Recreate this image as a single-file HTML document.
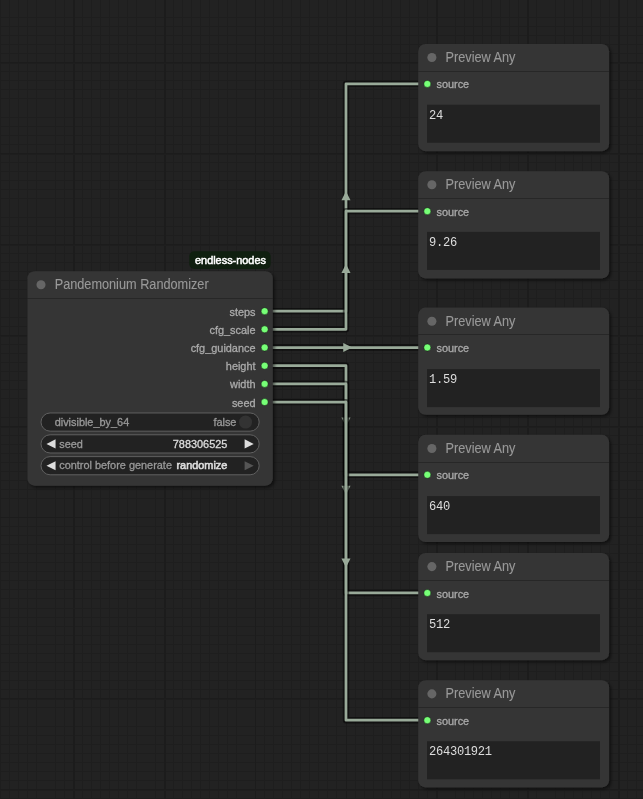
<!DOCTYPE html>
<html><head><meta charset="utf-8">
<style>
html,body{margin:0;padding:0;width:643px;height:799px;overflow:hidden;background:#222222;}
body{position:relative;font-family:"Liberation Sans",sans-serif;}
svg{position:absolute;left:0;top:0;will-change:transform;}
</style></head><body>

<svg width="643" height="799" viewBox="0 0 643 799">
<defs><filter id="sh" x="-10%" y="-10%" width="120%" height="120%"><feGaussianBlur in="SourceAlpha" stdDeviation="1.4"/><feOffset dx="1.8" dy="1.8"/><feComponentTransfer><feFuncA type="linear" slope="0.5"/></feComponentTransfer><feMerge><feMergeNode/><feMergeNode in="SourceGraphic"/></feMerge></filter></defs>
<g id="grid"><rect x="0" y="0" width="1" height="799" fill="#1e1e1e"/><rect x="9" y="0" width="1" height="799" fill="#1e1e1e"/><rect x="18" y="0" width="1" height="799" fill="#1e1e1e"/><rect x="27" y="0" width="1" height="799" fill="#1e1e1e"/><rect x="36" y="0" width="1" height="799" fill="#1e1e1e"/><rect x="55" y="0" width="1" height="799" fill="#1e1e1e"/><rect x="64" y="0" width="1" height="799" fill="#1e1e1e"/><rect x="82" y="0" width="1" height="799" fill="#1e1e1e"/><rect x="91" y="0" width="1" height="799" fill="#1e1e1e"/><rect x="100" y="0" width="1" height="799" fill="#1e1e1e"/><rect x="109" y="0" width="1" height="799" fill="#1e1e1e"/><rect x="118" y="0" width="1" height="799" fill="#1e1e1e"/><rect x="127" y="0" width="1" height="799" fill="#1e1e1e"/><rect x="136" y="0" width="1" height="799" fill="#1e1e1e"/><rect x="155" y="0" width="1" height="799" fill="#1e1e1e"/><rect x="173" y="0" width="1" height="799" fill="#1e1e1e"/><rect x="182" y="0" width="1" height="799" fill="#1e1e1e"/><rect x="191" y="0" width="1" height="799" fill="#1e1e1e"/><rect x="200" y="0" width="1" height="799" fill="#1e1e1e"/><rect x="209" y="0" width="1" height="799" fill="#1e1e1e"/><rect x="218" y="0" width="1" height="799" fill="#1e1e1e"/><rect x="227" y="0" width="1" height="799" fill="#1e1e1e"/><rect x="236" y="0" width="1" height="799" fill="#1e1e1e"/><rect x="264" y="0" width="1" height="799" fill="#1e1e1e"/><rect x="273" y="0" width="1" height="799" fill="#1e1e1e"/><rect x="282" y="0" width="1" height="799" fill="#1e1e1e"/><rect x="291" y="0" width="1" height="799" fill="#1e1e1e"/><rect x="300" y="0" width="1" height="799" fill="#1e1e1e"/><rect x="309" y="0" width="1" height="799" fill="#1e1e1e"/><rect x="318" y="0" width="1" height="799" fill="#1e1e1e"/><rect x="327" y="0" width="1" height="799" fill="#1e1e1e"/><rect x="336" y="0" width="1" height="799" fill="#1e1e1e"/><rect x="355" y="0" width="1" height="799" fill="#1e1e1e"/><rect x="364" y="0" width="1" height="799" fill="#1e1e1e"/><rect x="373" y="0" width="1" height="799" fill="#1e1e1e"/><rect x="382" y="0" width="1" height="799" fill="#1e1e1e"/><rect x="391" y="0" width="1" height="799" fill="#1e1e1e"/><rect x="400" y="0" width="1" height="799" fill="#1e1e1e"/><rect x="409" y="0" width="1" height="799" fill="#1e1e1e"/><rect x="418" y="0" width="1" height="799" fill="#1e1e1e"/><rect x="427" y="0" width="1" height="799" fill="#1e1e1e"/><rect x="455" y="0" width="1" height="799" fill="#1e1e1e"/><rect x="464" y="0" width="1" height="799" fill="#1e1e1e"/><rect x="473" y="0" width="1" height="799" fill="#1e1e1e"/><rect x="482" y="0" width="1" height="799" fill="#1e1e1e"/><rect x="491" y="0" width="1" height="799" fill="#1e1e1e"/><rect x="500" y="0" width="1" height="799" fill="#1e1e1e"/><rect x="509" y="0" width="1" height="799" fill="#1e1e1e"/><rect x="518" y="0" width="1" height="799" fill="#1e1e1e"/><rect x="536" y="0" width="1" height="799" fill="#1e1e1e"/><rect x="555" y="0" width="1" height="799" fill="#1e1e1e"/><rect x="564" y="0" width="1" height="799" fill="#1e1e1e"/><rect x="573" y="0" width="1" height="799" fill="#1e1e1e"/><rect x="582" y="0" width="1" height="799" fill="#1e1e1e"/><rect x="591" y="0" width="1" height="799" fill="#1e1e1e"/><rect x="600" y="0" width="1" height="799" fill="#1e1e1e"/><rect x="609" y="0" width="1" height="799" fill="#1e1e1e"/><rect x="627" y="0" width="1" height="799" fill="#1e1e1e"/><rect x="636" y="0" width="1" height="799" fill="#1e1e1e"/><rect x="0" y="17" width="643" height="1" fill="#1e1e1e"/><rect x="0" y="26" width="643" height="1" fill="#1e1e1e"/><rect x="0" y="35" width="643" height="1" fill="#1e1e1e"/><rect x="0" y="44" width="643" height="1" fill="#1e1e1e"/><rect x="0" y="53" width="643" height="1" fill="#1e1e1e"/><rect x="0" y="71" width="643" height="1" fill="#1e1e1e"/><rect x="0" y="80" width="643" height="1" fill="#1e1e1e"/><rect x="0" y="89" width="643" height="1" fill="#1e1e1e"/><rect x="0" y="98" width="643" height="1" fill="#1e1e1e"/><rect x="0" y="117" width="643" height="1" fill="#1e1e1e"/><rect x="0" y="126" width="643" height="1" fill="#1e1e1e"/><rect x="0" y="135" width="643" height="1" fill="#1e1e1e"/><rect x="0" y="144" width="643" height="1" fill="#1e1e1e"/><rect x="0" y="162" width="643" height="1" fill="#1e1e1e"/><rect x="0" y="171" width="643" height="1" fill="#1e1e1e"/><rect x="0" y="180" width="643" height="1" fill="#1e1e1e"/><rect x="0" y="189" width="643" height="1" fill="#1e1e1e"/><rect x="0" y="198" width="643" height="1" fill="#1e1e1e"/><rect x="0" y="217" width="643" height="1" fill="#1e1e1e"/><rect x="0" y="226" width="643" height="1" fill="#1e1e1e"/><rect x="0" y="235" width="643" height="1" fill="#1e1e1e"/><rect x="0" y="253" width="643" height="1" fill="#1e1e1e"/><rect x="0" y="262" width="643" height="1" fill="#1e1e1e"/><rect x="0" y="271" width="643" height="1" fill="#1e1e1e"/><rect x="0" y="280" width="643" height="1" fill="#1e1e1e"/><rect x="0" y="289" width="643" height="1" fill="#1e1e1e"/><rect x="0" y="298" width="643" height="1" fill="#1e1e1e"/><rect x="0" y="317" width="643" height="1" fill="#1e1e1e"/><rect x="0" y="326" width="643" height="1" fill="#1e1e1e"/><rect x="0" y="344" width="643" height="1" fill="#1e1e1e"/><rect x="0" y="353" width="643" height="1" fill="#1e1e1e"/><rect x="0" y="362" width="643" height="1" fill="#1e1e1e"/><rect x="0" y="371" width="643" height="1" fill="#1e1e1e"/><rect x="0" y="380" width="643" height="1" fill="#1e1e1e"/><rect x="0" y="389" width="643" height="1" fill="#1e1e1e"/><rect x="0" y="398" width="643" height="1" fill="#1e1e1e"/><rect x="0" y="417" width="643" height="1" fill="#1e1e1e"/><rect x="0" y="435" width="643" height="1" fill="#1e1e1e"/><rect x="0" y="444" width="643" height="1" fill="#1e1e1e"/><rect x="0" y="453" width="643" height="1" fill="#1e1e1e"/><rect x="0" y="462" width="643" height="1" fill="#1e1e1e"/><rect x="0" y="471" width="643" height="1" fill="#1e1e1e"/><rect x="0" y="480" width="643" height="1" fill="#1e1e1e"/><rect x="0" y="489" width="643" height="1" fill="#1e1e1e"/><rect x="0" y="498" width="643" height="1" fill="#1e1e1e"/><rect x="0" y="526" width="643" height="1" fill="#1e1e1e"/><rect x="0" y="535" width="643" height="1" fill="#1e1e1e"/><rect x="0" y="544" width="643" height="1" fill="#1e1e1e"/><rect x="0" y="553" width="643" height="1" fill="#1e1e1e"/><rect x="0" y="562" width="643" height="1" fill="#1e1e1e"/><rect x="0" y="571" width="643" height="1" fill="#1e1e1e"/><rect x="0" y="580" width="643" height="1" fill="#1e1e1e"/><rect x="0" y="589" width="643" height="1" fill="#1e1e1e"/><rect x="0" y="598" width="643" height="1" fill="#1e1e1e"/><rect x="0" y="617" width="643" height="1" fill="#1e1e1e"/><rect x="0" y="626" width="643" height="1" fill="#1e1e1e"/><rect x="0" y="635" width="643" height="1" fill="#1e1e1e"/><rect x="0" y="644" width="643" height="1" fill="#1e1e1e"/><rect x="0" y="653" width="643" height="1" fill="#1e1e1e"/><rect x="0" y="662" width="643" height="1" fill="#1e1e1e"/><rect x="0" y="671" width="643" height="1" fill="#1e1e1e"/><rect x="0" y="680" width="643" height="1" fill="#1e1e1e"/><rect x="0" y="689" width="643" height="1" fill="#1e1e1e"/><rect x="0" y="707" width="643" height="1" fill="#1e1e1e"/><rect x="0" y="726" width="643" height="1" fill="#1e1e1e"/><rect x="0" y="735" width="643" height="1" fill="#1e1e1e"/><rect x="0" y="744" width="643" height="1" fill="#1e1e1e"/><rect x="0" y="753" width="643" height="1" fill="#1e1e1e"/><rect x="0" y="762" width="643" height="1" fill="#1e1e1e"/><rect x="0" y="771" width="643" height="1" fill="#1e1e1e"/><rect x="0" y="780" width="643" height="1" fill="#1e1e1e"/><rect x="0" y="798" width="643" height="1" fill="#1e1e1e"/><rect x="73" y="0" width="1" height="799" fill="#1c1c1c"/><rect x="74" y="0" width="1" height="799" fill="#1c1c1c"/><rect x="164" y="0" width="1" height="799" fill="#1c1c1c"/><rect x="165" y="0" width="1" height="799" fill="#1c1c1c"/><rect x="255" y="0" width="1" height="799" fill="#1c1c1c"/><rect x="346" y="0" width="1" height="799" fill="#1c1c1c"/><rect x="436" y="0" width="1" height="799" fill="#1c1c1c"/><rect x="437" y="0" width="1" height="799" fill="#1c1c1c"/><rect x="527" y="0" width="1" height="799" fill="#1c1c1c"/><rect x="528" y="0" width="1" height="799" fill="#1c1c1c"/><rect x="618" y="0" width="1" height="799" fill="#1c1c1c"/><rect x="619" y="0" width="1" height="799" fill="#1c1c1c"/><rect x="0" y="62" width="643" height="1" fill="#1c1c1c"/><rect x="0" y="63" width="643" height="1" fill="#1e1e1e"/><rect x="0" y="153" width="643" height="1" fill="#1c1c1c"/><rect x="0" y="154" width="643" height="1" fill="#1e1e1e"/><rect x="0" y="244" width="643" height="1" fill="#1c1c1c"/><rect x="0" y="245" width="643" height="1" fill="#1e1e1e"/><rect x="0" y="335" width="643" height="1" fill="#1c1c1c"/><rect x="0" y="336" width="643" height="1" fill="#1e1e1e"/><rect x="0" y="426" width="643" height="1" fill="#1c1c1c"/><rect x="0" y="427" width="643" height="1" fill="#1e1e1e"/><rect x="0" y="517" width="643" height="1" fill="#1c1c1c"/><rect x="0" y="608" width="643" height="1" fill="#1e1e1e"/><rect x="0" y="698" width="643" height="1" fill="#1c1c1c"/><rect x="0" y="699" width="643" height="1" fill="#1e1e1e"/><rect x="0" y="789" width="643" height="1" fill="#1c1c1c"/><rect x="0" y="790" width="643" height="1" fill="#1e1e1e"/></g>
<g id="links"><path d="M264.63 311.17 L273.72 311.17 L345.98 311.17 L345.98 83.92 L418.25 83.92 L427.34 83.92" fill="none" stroke="rgba(0,0,0,0.5)" stroke-width="6.36" stroke-linejoin="round" stroke-linecap="round"/><path d="M264.63 311.17 L273.72 311.17 L345.98 311.17 L345.98 83.92 L418.25 83.92 L427.34 83.92" fill="none" stroke="#99aa99" stroke-width="2.73" stroke-linejoin="round" stroke-linecap="round"/><path d="M-2.73 -4.54 L6.36 0 L-2.73 4.54 Z" fill="#99aa99" transform="translate(345.98 197.54) rotate(-90)"/><path d="M264.63 329.35 L273.72 329.35 L345.98 329.35 L345.98 211.18 L418.25 211.18 L427.34 211.18" fill="none" stroke="rgba(0,0,0,0.5)" stroke-width="6.36" stroke-linejoin="round" stroke-linecap="round"/><path d="M264.63 329.35 L273.72 329.35 L345.98 329.35 L345.98 211.18 L418.25 211.18 L427.34 211.18" fill="none" stroke="#99aa99" stroke-width="2.73" stroke-linejoin="round" stroke-linecap="round"/><path d="M-2.73 -4.54 L6.36 0 L-2.73 4.54 Z" fill="#99aa99" transform="translate(345.98 270.26) rotate(-90)"/><path d="M264.63 347.53 L273.72 347.53 L345.98 347.53 L345.98 347.53 L418.25 347.53 L427.34 347.53" fill="none" stroke="rgba(0,0,0,0.5)" stroke-width="6.36" stroke-linejoin="round" stroke-linecap="round"/><path d="M264.63 347.53 L273.72 347.53 L345.98 347.53 L345.98 347.53 L418.25 347.53 L427.34 347.53" fill="none" stroke="#99aa99" stroke-width="2.73" stroke-linejoin="round" stroke-linecap="round"/><path d="M-2.73 -4.54 L6.36 0 L-2.73 4.54 Z" fill="#99aa99" transform="translate(345.98 347.53) rotate(0)"/><path d="M264.63 365.71 L273.72 365.71 L345.98 365.71 L345.98 474.79 L418.25 474.79 L427.34 474.79" fill="none" stroke="rgba(0,0,0,0.5)" stroke-width="6.36" stroke-linejoin="round" stroke-linecap="round"/><path d="M264.63 365.71 L273.72 365.71 L345.98 365.71 L345.98 474.79 L418.25 474.79 L427.34 474.79" fill="none" stroke="#99aa99" stroke-width="2.73" stroke-linejoin="round" stroke-linecap="round"/><path d="M-2.73 -4.54 L6.36 0 L-2.73 4.54 Z" fill="#99aa99" transform="translate(345.98 420.25) rotate(90)"/><path d="M264.63 383.89 L273.72 383.89 L345.98 383.89 L345.98 592.96 L418.25 592.96 L427.34 592.96" fill="none" stroke="rgba(0,0,0,0.5)" stroke-width="6.36" stroke-linejoin="round" stroke-linecap="round"/><path d="M264.63 383.89 L273.72 383.89 L345.98 383.89 L345.98 592.96 L418.25 592.96 L427.34 592.96" fill="none" stroke="#99aa99" stroke-width="2.73" stroke-linejoin="round" stroke-linecap="round"/><path d="M-2.73 -4.54 L6.36 0 L-2.73 4.54 Z" fill="#99aa99" transform="translate(345.98 488.42) rotate(90)"/><path d="M264.63 402.07 L273.72 402.07 L345.98 402.07 L345.98 720.22 L418.25 720.22 L427.34 720.22" fill="none" stroke="rgba(0,0,0,0.5)" stroke-width="6.36" stroke-linejoin="round" stroke-linecap="round"/><path d="M264.63 402.07 L273.72 402.07 L345.98 402.07 L345.98 720.22 L418.25 720.22 L427.34 720.22" fill="none" stroke="#99aa99" stroke-width="2.73" stroke-linejoin="round" stroke-linecap="round"/><path d="M-2.73 -4.54 L6.36 0 L-2.73 4.54 Z" fill="#99aa99" transform="translate(345.98 561.14) rotate(90)"/></g>
<rect x="27.38" y="271.17" width="245.43" height="214.52" rx="7.27" fill="#353535" filter="url(#sh)"/><rect x="27.38" y="298" width="245.43" height="1" fill="rgba(0,0,0,0.25)"/>
<circle cx="41.01" cy="284.81" r="4.54" fill="#666"/>
<text transform="translate(54.65 289.35) scale(1 1.1)" x="0" y="0" font-size="12.72" fill="#999" stroke="#999" stroke-width="0.1" font-family="Liberation Sans">Pandemonium Randomizer</text>
<text x="255.54" y="315.71" font-size="10.91" fill="#aaa" stroke="#aaa" stroke-width="0.3" text-anchor="end" font-family="Liberation Sans">steps</text>
<circle cx="264.63" cy="311.17" r="3.5" fill="#77ff77" stroke="rgba(0,0,0,0.5)" stroke-width="0.8"/>
<text x="255.54" y="333.89" font-size="10.91" fill="#aaa" stroke="#aaa" stroke-width="0.3" text-anchor="end" font-family="Liberation Sans">cfg_scale</text>
<circle cx="264.63" cy="329.35" r="3.5" fill="#77ff77" stroke="rgba(0,0,0,0.5)" stroke-width="0.8"/>
<text x="255.54" y="352.07" font-size="10.91" fill="#aaa" stroke="#aaa" stroke-width="0.3" text-anchor="end" font-family="Liberation Sans">cfg_guidance</text>
<circle cx="264.63" cy="347.53" r="3.5" fill="#77ff77" stroke="rgba(0,0,0,0.5)" stroke-width="0.8"/>
<text x="255.54" y="370.25" font-size="10.91" fill="#aaa" stroke="#aaa" stroke-width="0.3" text-anchor="end" font-family="Liberation Sans">height</text>
<circle cx="264.63" cy="365.71" r="3.5" fill="#77ff77" stroke="rgba(0,0,0,0.5)" stroke-width="0.8"/>
<text x="255.54" y="388.43" font-size="10.91" fill="#aaa" stroke="#aaa" stroke-width="0.3" text-anchor="end" font-family="Liberation Sans">width</text>
<circle cx="264.63" cy="383.89" r="3.5" fill="#77ff77" stroke="rgba(0,0,0,0.5)" stroke-width="0.8"/>
<text x="255.54" y="406.61" font-size="10.91" fill="#aaa" stroke="#aaa" stroke-width="0.3" text-anchor="end" font-family="Liberation Sans">seed</text>
<circle cx="264.63" cy="402.07" r="3.5" fill="#77ff77" stroke="rgba(0,0,0,0.5)" stroke-width="0.8"/>
<rect x="41.01" y="412.98" width="218.16" height="18.18" rx="9.09" fill="#222" stroke="#666" stroke-width="0.91"/>
<rect x="41.01" y="434.79" width="218.16" height="18.18" rx="9.09" fill="#222" stroke="#666" stroke-width="0.91"/>
<rect x="41.01" y="456.61" width="218.16" height="18.18" rx="9.09" fill="#222" stroke="#666" stroke-width="0.91"/>
<text x="54.65" y="425.7" font-size="10.91" fill="#999" stroke="#999" stroke-width="0.3" font-family="Liberation Sans">divisible_by_64</text>
<text x="236.45" y="425.7" font-size="10.91" fill="#999" stroke="#999" stroke-width="0.3" text-anchor="end" font-family="Liberation Sans">false</text>
<circle cx="245.54" cy="422.07" r="6.54" fill="#333"/>
<path d="M55.56 439.34 L46.47 443.88 L55.56 448.43 Z" fill="#ddd"/><path d="M244.63 439.34 L253.72 443.88 L244.63 448.43 Z" fill="#ddd"/>
<text x="59.19" y="447.52" font-size="10.91" fill="#999" stroke="#999" stroke-width="0.3" font-family="Liberation Sans">seed</text>
<text x="227.36" y="447.52" font-size="10.91" fill="#ddd" stroke="#ddd" stroke-width="0.3" text-anchor="end" font-family="Liberation Sans">788306525</text>
<path d="M55.56 461.15 L46.47 465.7 L55.56 470.24 Z" fill="#ddd"/><path d="M244.63 461.15 L253.72 465.7 L244.63 470.24 Z" fill="#555"/>
<text x="59.19" y="469.33" font-size="10.91" fill="#999" stroke="#999" stroke-width="0.3" font-family="Liberation Sans">control before generate</text>
<text x="227.36" y="469.33" font-size="10.91" fill="#ddd" stroke="#ddd" stroke-width="0.6" text-anchor="end" font-family="Liberation Sans">randomize</text>
<rect x="189.3" y="251.2" width="81.3" height="17.8" rx="5" fill="#0f1f0f"/>
<text x="195" y="264" font-size="10.91" fill="#fff" stroke="#fff" stroke-width="0.5" font-family="Liberation Sans">endless-nodes</text>
<rect x="418.25" y="43.92" width="190.89" height="107.26" rx="7.27" fill="#353535" filter="url(#sh)"/><rect x="418.25" y="71" width="190.89" height="1" fill="rgba(0,0,0,0.25)"/>
<circle cx="431.88" cy="57.56" r="4.54" fill="#666"/>
<text transform="translate(445.52 62.1) scale(1 1.1)" x="0" y="0" font-size="12.72" fill="#999" stroke="#999" stroke-width="0.1" font-family="Liberation Sans">Preview Any</text>
<circle cx="427.34" cy="83.92" r="3.5" fill="#77ff77" stroke="rgba(0,0,0,0.5)" stroke-width="0.8"/>
<text x="436.43" y="88" font-size="10.91" fill="#aaa" stroke="#aaa" stroke-width="0.3" font-family="Liberation Sans">source</text>
<rect x="427" y="104.7" width="173" height="38" fill="#222"/>
<text x="429.1" y="118.6" font-size="12.1" letter-spacing="-0.3" fill="#ddd" font-family="Liberation Mono">24</text>
<rect x="418.25" y="171.18" width="190.89" height="107.26" rx="7.27" fill="#353535" filter="url(#sh)"/><rect x="418.25" y="198" width="190.89" height="1" fill="rgba(0,0,0,0.25)"/>
<circle cx="431.88" cy="184.82" r="4.54" fill="#666"/>
<text transform="translate(445.52 189.36) scale(1 1.1)" x="0" y="0" font-size="12.72" fill="#999" stroke="#999" stroke-width="0.1" font-family="Liberation Sans">Preview Any</text>
<circle cx="427.34" cy="211.18" r="3.5" fill="#77ff77" stroke="rgba(0,0,0,0.5)" stroke-width="0.8"/>
<text x="436.43" y="216" font-size="10.91" fill="#aaa" stroke="#aaa" stroke-width="0.3" font-family="Liberation Sans">source</text>
<rect x="427" y="231.9" width="173" height="38" fill="#222"/>
<text x="429.1" y="245.8" font-size="12.1" letter-spacing="-0.3" fill="#ddd" font-family="Liberation Mono">9.26</text>
<rect x="418.25" y="307.53" width="190.89" height="107.26" rx="7.27" fill="#353535" filter="url(#sh)"/><rect x="418.25" y="334" width="190.89" height="1" fill="rgba(0,0,0,0.25)"/>
<circle cx="431.88" cy="321.17" r="4.54" fill="#666"/>
<text transform="translate(445.52 325.71) scale(1 1.1)" x="0" y="0" font-size="12.72" fill="#999" stroke="#999" stroke-width="0.1" font-family="Liberation Sans">Preview Any</text>
<circle cx="427.34" cy="347.53" r="3.5" fill="#77ff77" stroke="rgba(0,0,0,0.5)" stroke-width="0.8"/>
<text x="436.43" y="352" font-size="10.91" fill="#aaa" stroke="#aaa" stroke-width="0.3" font-family="Liberation Sans">source</text>
<rect x="427" y="369.1" width="173" height="38" fill="#222"/>
<text x="429.1" y="383" font-size="12.1" letter-spacing="-0.3" fill="#ddd" font-family="Liberation Mono">1.59</text>
<rect x="418.25" y="434.79" width="190.89" height="107.26" rx="7.27" fill="#353535" filter="url(#sh)"/><rect x="418.25" y="462" width="190.89" height="1" fill="rgba(0,0,0,0.25)"/>
<circle cx="431.88" cy="448.43" r="4.54" fill="#666"/>
<text transform="translate(445.52 452.97) scale(1 1.1)" x="0" y="0" font-size="12.72" fill="#999" stroke="#999" stroke-width="0.1" font-family="Liberation Sans">Preview Any</text>
<circle cx="427.34" cy="474.79" r="3.5" fill="#77ff77" stroke="rgba(0,0,0,0.5)" stroke-width="0.8"/>
<text x="436.43" y="479" font-size="10.91" fill="#aaa" stroke="#aaa" stroke-width="0.3" font-family="Liberation Sans">source</text>
<rect x="427" y="496.1" width="173" height="38" fill="#222"/>
<text x="429.1" y="510" font-size="12.1" letter-spacing="-0.3" fill="#ddd" font-family="Liberation Mono">640</text>
<rect x="418.25" y="552.96" width="190.89" height="107.26" rx="7.27" fill="#353535" filter="url(#sh)"/><rect x="418.25" y="580" width="190.89" height="1" fill="rgba(0,0,0,0.25)"/>
<circle cx="431.88" cy="566.6" r="4.54" fill="#666"/>
<text transform="translate(445.52 571.14) scale(1 1.1)" x="0" y="0" font-size="12.72" fill="#999" stroke="#999" stroke-width="0.1" font-family="Liberation Sans">Preview Any</text>
<circle cx="427.34" cy="592.96" r="3.5" fill="#77ff77" stroke="rgba(0,0,0,0.5)" stroke-width="0.8"/>
<text x="436.43" y="598" font-size="10.91" fill="#aaa" stroke="#aaa" stroke-width="0.3" font-family="Liberation Sans">source</text>
<rect x="427" y="614.2" width="173" height="38" fill="#222"/>
<text x="429.1" y="628.1" font-size="12.1" letter-spacing="-0.3" fill="#ddd" font-family="Liberation Mono">512</text>
<rect x="418.25" y="680.22" width="190.89" height="107.26" rx="7.27" fill="#353535" filter="url(#sh)"/><rect x="418.25" y="707" width="190.89" height="1" fill="rgba(0,0,0,0.25)"/>
<circle cx="431.88" cy="693.86" r="4.54" fill="#666"/>
<text transform="translate(445.52 698.4) scale(1 1.1)" x="0" y="0" font-size="12.72" fill="#999" stroke="#999" stroke-width="0.1" font-family="Liberation Sans">Preview Any</text>
<circle cx="427.34" cy="720.22" r="3.5" fill="#77ff77" stroke="rgba(0,0,0,0.5)" stroke-width="0.8"/>
<text x="436.43" y="725" font-size="10.91" fill="#aaa" stroke="#aaa" stroke-width="0.3" font-family="Liberation Sans">source</text>
<rect x="427" y="741.3" width="173" height="38" fill="#222"/>
<text x="429.1" y="755.2" font-size="12.1" letter-spacing="-0.3" fill="#ddd" font-family="Liberation Mono">264301921</text>
</svg></body></html>
